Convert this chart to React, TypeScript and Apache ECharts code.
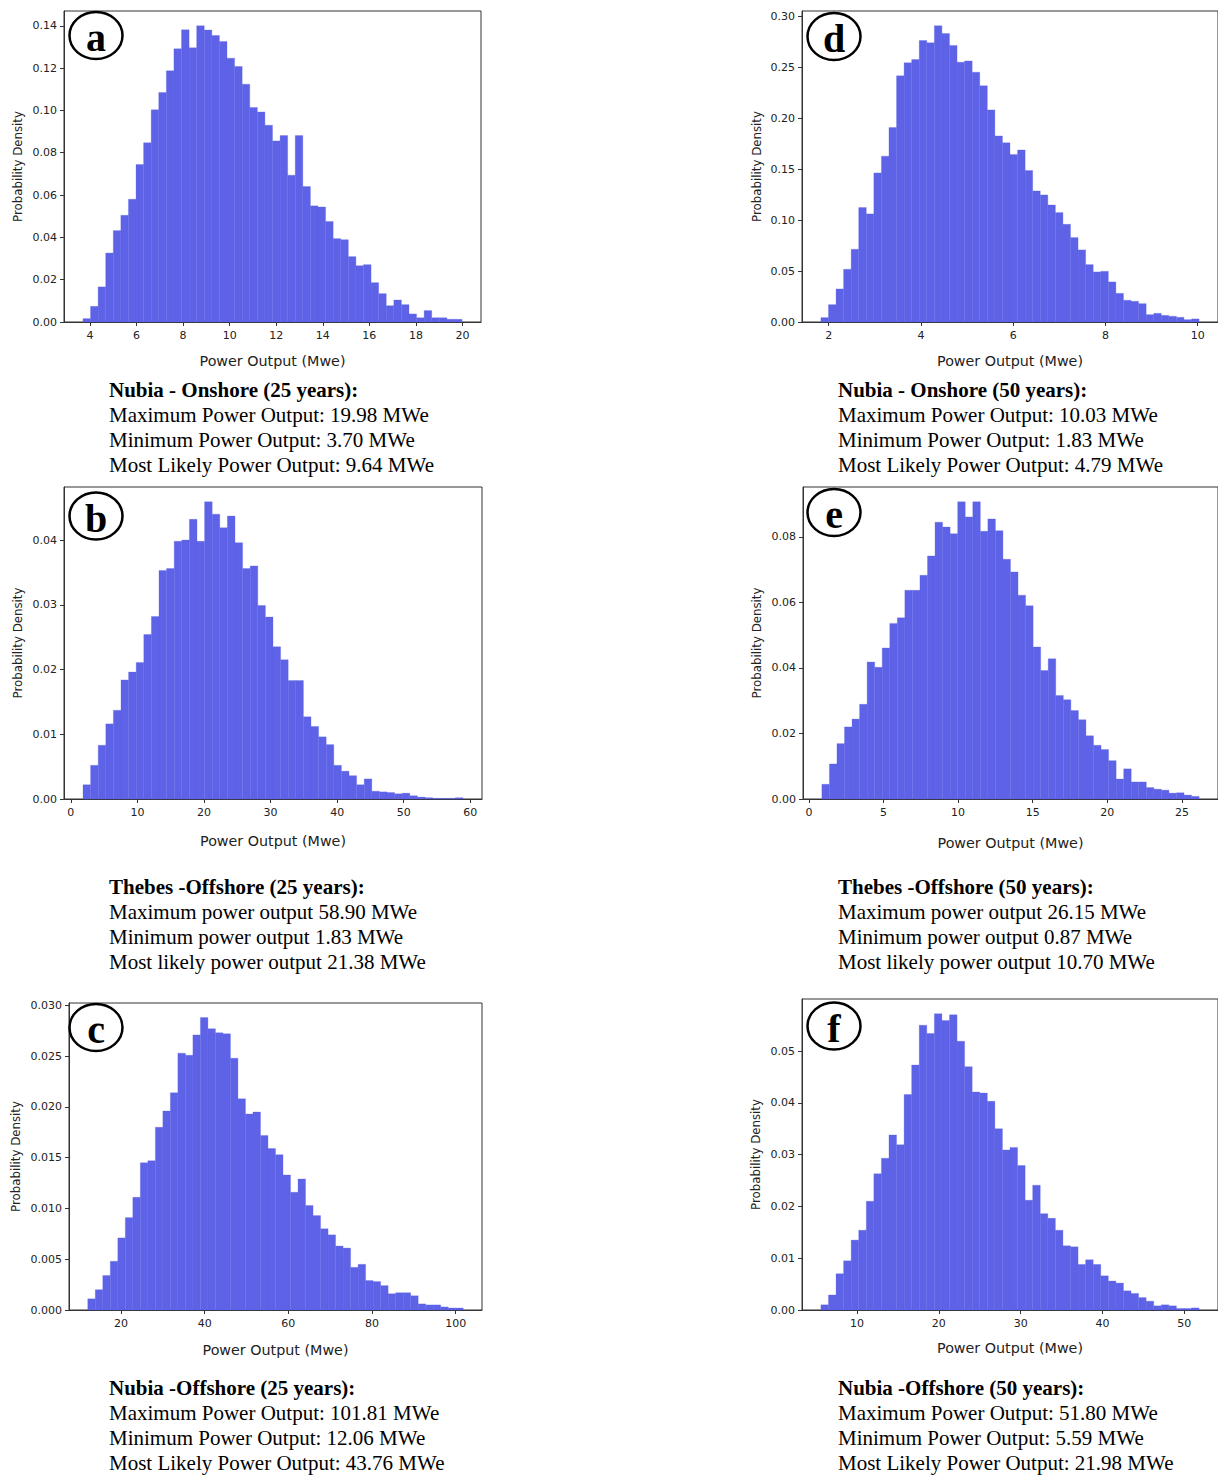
import React, { useEffect, useRef } from "react";
import * as echarts from "echarts";

// ---------- data ----------
const A_RANGE = [3.7, 19.98];
const A_VALUES = [0.0016,0.0074,0.0166,0.0326,0.0432,0.0504,0.058,0.0744,0.0847,0.1003,0.1085,0.1187,0.1291,0.1381,0.1296,0.14,0.138,0.1354,0.1326,0.1247,0.1208,0.1124,0.1014,0.0993,0.093,0.0856,0.0881,0.0694,0.0881,0.064,0.0549,0.0544,0.0475,0.0394,0.0389,0.0309,0.0266,0.0271,0.0186,0.0134,0.0077,0.0104,0.0082,0.0038,0.002,0.0054,0.002,0.002,0.0013,0.0013];
const A_XTICKS = [4, 6, 8, 10, 12, 14, 16, 18, 20];
const A_YTICKS = [0, 0.02, 0.04, 0.06, 0.08, 0.1, 0.12, 0.14];
const A_TEXT = ["Nubia - Onshore (25 years):", "Maximum Power Output: 19.98 MWe", "Minimum Power Output: 3.70 MWe", "Most Likely Power Output: 9.64 MWe"];

const D_RANGE = [1.83, 10.03];
const D_VALUES = [0.0043,0.017,0.0324,0.0517,0.0713,0.1122,0.106,0.1462,0.1626,0.1907,0.2414,0.2542,0.2574,0.2761,0.2738,0.2905,0.283,0.2712,0.2548,0.2561,0.245,0.2316,0.208,0.1825,0.1757,0.1642,0.1688,0.1485,0.1286,0.1246,0.1148,0.1073,0.0958,0.0828,0.0707,0.0563,0.0491,0.0497,0.0393,0.0281,0.0213,0.0203,0.018,0.0072,0.0085,0.0065,0.0056,0.0046,0.0023,0.003];
const D_XTICKS = [2, 4, 6, 8, 10];
const D_YTICKS = [0, 0.05, 0.1, 0.15, 0.2, 0.25, 0.3];
const D_TEXT = ["Nubia - Onshore (50 years):", "Maximum Power Output: 10.03 MWe", "Minimum Power Output: 1.83 MWe", "Most Likely Power Output: 4.79 MWe"];

const B_RANGE = [1.83, 58.9];
const B_VALUES = [0.0022,0.0052,0.0083,0.0116,0.0137,0.0184,0.0196,0.0211,0.0254,0.0282,0.0353,0.0356,0.0398,0.04,0.0432,0.0398,0.0459,0.044,0.0419,0.0437,0.0396,0.0356,0.036,0.0299,0.0281,0.0235,0.0215,0.0183,0.0183,0.0127,0.0112,0.0096,0.0084,0.0052,0.0043,0.0036,0.0022,0.0031,0.0012,0.0011,0.001,0.0008,0.0009,0.0005,0.0003,0.0002,0.0001,0.0001,0.0001,0.0002];
const B_XTICKS = [0, 10, 20, 30, 40, 50, 60];
const B_YTICKS = [0, 0.01, 0.02, 0.03, 0.04];
const B_TEXT = ["Thebes -Offshore (25 years):", "Maximum power output 58.90 MWe", "Minimum power output 1.83 MWe", "Most likely power output 21.38 MWe"];

const E_RANGE = [0.87, 26.15];
const E_VALUES = [0.0045,0.0107,0.0169,0.022,0.0244,0.0289,0.0418,0.0402,0.0461,0.0536,0.0553,0.0637,0.0637,0.0683,0.0742,0.0845,0.083,0.081,0.0907,0.0861,0.0907,0.0817,0.0855,0.0819,0.0732,0.0693,0.0622,0.059,0.0464,0.0392,0.0428,0.0316,0.0303,0.027,0.0242,0.0193,0.0164,0.0151,0.0117,0.0061,0.0092,0.0052,0.0052,0.0035,0.003,0.0027,0.0018,0.0019,0.0012,0.0008];
const E_XTICKS = [0, 5, 10, 15, 20, 25];
const E_YTICKS = [0, 0.02, 0.04, 0.06, 0.08];
const E_TEXT = ["Thebes -Offshore (50 years):", "Maximum power output 26.15 MWe", "Minimum power output 0.87 MWe", "Most likely power output 10.70 MWe"];

const C_RANGE = [12.06, 101.81];
const C_VALUES = [0.0011,0.002,0.0034,0.0048,0.0071,0.0091,0.0111,0.0145,0.0147,0.018,0.0196,0.0214,0.0253,0.0251,0.0271,0.0288,0.0277,0.0273,0.0272,0.0248,0.0208,0.0193,0.0195,0.0172,0.0159,0.0153,0.0133,0.0116,0.0129,0.0103,0.0093,0.008,0.0074,0.0063,0.0061,0.0042,0.0045,0.0029,0.0028,0.0024,0.0016,0.0017,0.0017,0.0014,0.0006,0.0005,0.0005,0.0003,0.0002,0.0002];
const C_XTICKS = [20, 40, 60, 80, 100];
const C_YTICKS = [0, 0.005, 0.01, 0.015, 0.02, 0.025, 0.03];
const C_TEXT = ["Nubia -Offshore (25 years):", "Maximum Power Output: 101.81 MWe", "Minimum Power Output: 12.06 MWe", "Most Likely Power Output: 43.76 MWe"];

const F_RANGE = [5.59, 51.8];
const F_VALUES = [0.001,0.0029,0.007,0.0095,0.0135,0.0154,0.021,0.0263,0.0293,0.0338,0.0319,0.0416,0.0473,0.055,0.0534,0.0572,0.0559,0.057,0.0519,0.047,0.0421,0.0419,0.0403,0.035,0.0309,0.0314,0.0279,0.0212,0.0241,0.0186,0.0177,0.0154,0.0124,0.0122,0.0088,0.0097,0.0088,0.0066,0.0056,0.0052,0.0037,0.0032,0.0024,0.0017,0.0008,0.001,0.0008,0.0003,0.0003,0.0004];
const F_XTICKS = [10, 20, 30, 40, 50];
const F_YTICKS = [0, 0.01, 0.02, 0.03, 0.04, 0.05];
const F_TEXT = ["Nubia -Offshore (50 years):", "Maximum Power Output: 51.80 MWe", "Minimum Power Output: 5.59 MWe", "Most Likely Power Output: 21.98 MWe"];

const X_NAME = "Power Output (Mwe)";
const Y_NAME = "Probability Density";

// ---------- layout ----------
const PANELS = [
  { id: "a", range: A_RANGE, values: A_VALUES, xt: A_XTICKS, yt: A_YTICKS, yd: 2, text: A_TEXT,
    grid: { left: 64, top: 11, width: 417, height: 311 }, xGap: 32, yGap: 40, circle: [96, 35.5], textPos: [109, 390] },
  { id: "d", range: D_RANGE, values: D_VALUES, xt: D_XTICKS, yt: D_YTICKS, yd: 2, text: D_TEXT,
    grid: { left: 802, top: 11, width: 418, height: 311 }, xGap: 32, yGap: 39, circle: [834, 36.5], textPos: [838, 390] },
  { id: "b", range: B_RANGE, values: B_VALUES, xt: B_XTICKS, yt: B_YTICKS, yd: 2, text: B_TEXT,
    grid: { left: 64, top: 487, width: 418, height: 312 }, xGap: 35, yGap: 40, circle: [96, 516], textPos: [109, 887] },
  { id: "e", range: E_RANGE, values: E_VALUES, xt: E_XTICKS, yt: E_YTICKS, yd: 2, text: E_TEXT,
    grid: { left: 803, top: 487, width: 418, height: 312 }, xGap: 37, yGap: 40, circle: [834, 512.5], textPos: [838, 887] },
  { id: "c", range: C_RANGE, values: C_VALUES, xt: C_XTICKS, yt: C_YTICKS, yd: 3, text: C_TEXT,
    grid: { left: 69, top: 1003, width: 413, height: 307 }, xGap: 33, yGap: 47, circle: [96, 1027.5], textPos: [109, 1388] },
  { id: "f", range: F_RANGE, values: F_VALUES, xt: F_XTICKS, yt: F_YTICKS, yd: 2, text: F_TEXT,
    grid: { left: 802, top: 999, width: 417, height: 311 }, xGap: 31, yGap: 40, circle: [834, 1026], textPos: [838, 1388] },
];

const BAR_COLOR = "#5d62e6";
const AXIS_COLOR = "#333";
const SANS = "'DejaVu Sans', sans-serif";
const SERIF = "'Liberation Serif', 'Times New Roman', serif";

function buildOption() {
  const grids: any[] = [];
  const xAxes: any[] = [];
  const yAxes: any[] = [];
  const series: any[] = [];
  const graphics: any[] = [];

  PANELS.forEach((p, i) => {
    const [lo, hi] = p.range;
    const n = p.values.length;
    const w = (hi - lo) / n;
    const span = hi - lo;
    const ymax = Math.max(...p.values) * 1.05;
    grids.push({ ...p.grid, show: true, borderColor: AXIS_COLOR, borderWidth: 1, backgroundColor: "transparent", containLabel: false });
    xAxes.push({
      type: "value", gridIndex: i, min: lo - 0.05 * span, max: hi + 0.05 * span,
      name: X_NAME, nameLocation: "middle", nameGap: p.xGap,
      nameTextStyle: { fontFamily: SANS, fontSize: 14.3, color: "#222" },
      axisLine: { show: true, onZero: false, lineStyle: { color: AXIS_COLOR, width: 1 } },
      axisTick: { show: true, length: 4, lineStyle: { color: AXIS_COLOR }, customValues: p.xt },
      axisLabel: { customValues: p.xt, margin: 8, fontFamily: SANS, fontSize: 11, color: "#222", formatter: (v: number) => String(v) },
      splitLine: { show: false },
    });
    yAxes.push({
      type: "value", gridIndex: i, min: 0, max: ymax,
      name: Y_NAME, nameLocation: "middle", nameGap: p.yGap,
      nameTextStyle: { fontFamily: SANS, fontSize: 11.8, color: "#222" },
      axisLine: { show: true, onZero: false, lineStyle: { color: AXIS_COLOR, width: 1 } },
      axisTick: { show: true, length: 4, lineStyle: { color: AXIS_COLOR }, customValues: p.yt },
      axisLabel: { customValues: p.yt, margin: 7, fontFamily: SANS, fontSize: 11, color: "#222", formatter: (v: number) => v.toFixed(p.yd) },
      splitLine: { show: false },
    });
    const data = p.values.map((v, k) => [lo + k * w, lo + (k + 1) * w, v]);
    series.push({
      type: "custom", xAxisIndex: i, yAxisIndex: i, data,
      encode: { x: [0, 1], y: 2 },
      renderItem: (params: any, api: any) => {
        const p0 = api.coord([api.value(0), api.value(2)]);
        const p1 = api.coord([api.value(1), 0]);
        return {
          type: "rect",
          shape: { x: p0[0], y: p0[1], width: p1[0] - p0[0], height: p1[1] - p0[1] },
          style: { fill: BAR_COLOR, stroke: BAR_COLOR, lineWidth: 0.3 },
        };
      },
    });
    // circled panel letter
    graphics.push({
      type: "ellipse", shape: { cx: p.circle[0], cy: p.circle[1], rx: 26.5, ry: 23.5 },
      style: { fill: "#fff", stroke: "#000", lineWidth: 2.5 }, z: 100,
    });
    graphics.push({
      type: "text", x: p.circle[0], y: p.circle[1] + 2, z: 101,
      style: { text: p.id, fontFamily: SERIF, fontWeight: "bold", fontSize: 40, fill: "#000", align: "center", verticalAlign: "middle" },
    });
    // text block
    p.text.forEach((t, k) => {
      graphics.push({
        type: "text", x: p.textPos[0], y: p.textPos[1] + k * 25,
        style: { text: t, fontFamily: SERIF, fontWeight: k === 0 ? "bold" : "normal", fontSize: 21, fill: "#000", align: "left", verticalAlign: "middle" },
      });
    });
  });

  return { animation: false, backgroundColor: "#fff", grid: grids, xAxis: xAxes, yAxis: yAxes, series, graphic: graphics };
}

export default function App() {
  const ref = useRef<HTMLDivElement>(null);
  useEffect(() => {
    if (!ref.current) return;
    const chart = echarts.init(ref.current, undefined, { renderer: "svg" });
    chart.setOption(buildOption() as any);
    return () => chart.dispose();
  }, []);
  return <div ref={ref} style={{ position: "absolute", left: 0, top: 0, width: 1218, height: 1476 }} />;
}
